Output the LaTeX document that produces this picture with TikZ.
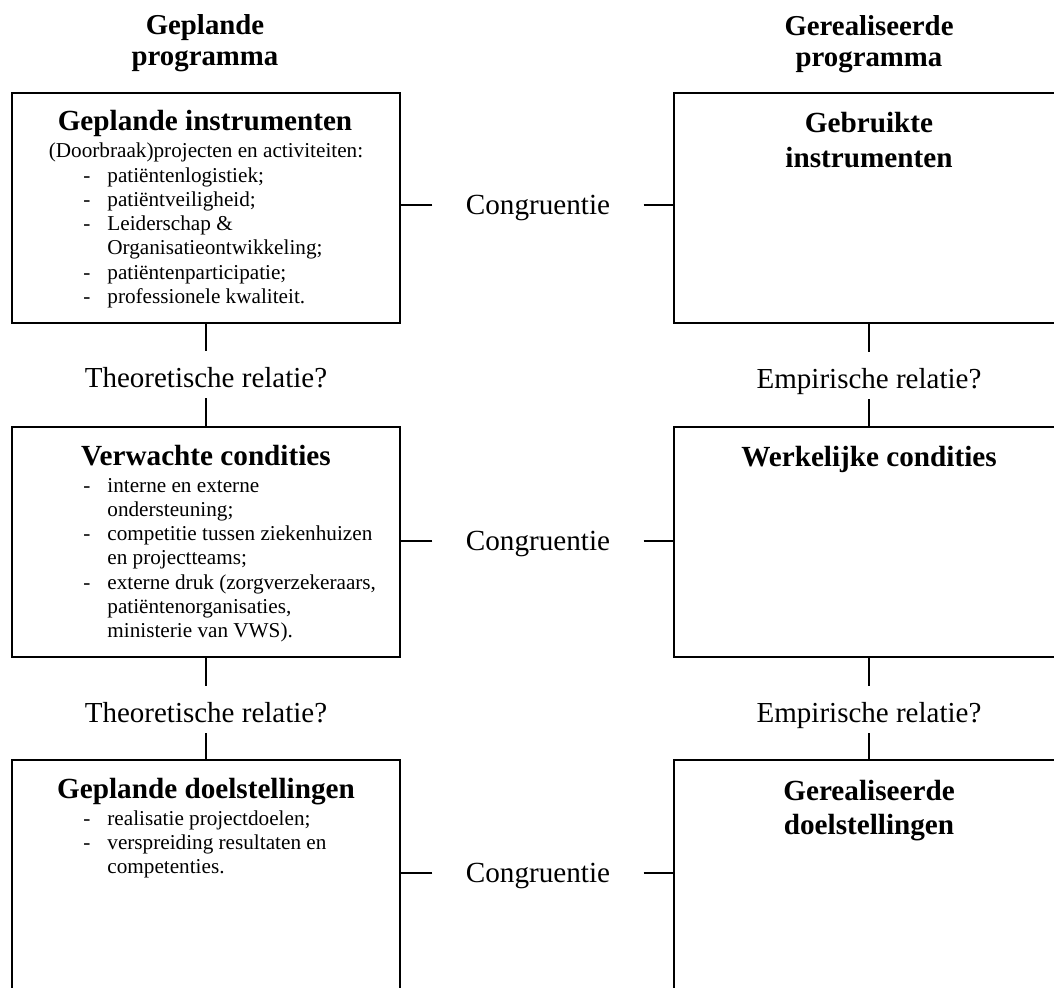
\documentclass[tikz,border=0pt]{standalone}
\usepackage{fontspec}
\setmainfont{Liberation Serif}
% list line with a dash, and its continuation line
\newcommand\itm[1]{\hbox{\makebox[12pt][l]{-}#1}}
\newcommand\cnt[1]{\hbox{\hspace*{12pt}#1}}
\begin{document}
\begin{tikzpicture}[x=0.5pt,y=-0.5pt,
  box/.style={draw, line width=1pt, rectangle, inner sep=0pt, outer sep=0pt,
    minimum width=194pt, minimum height=115pt},
  rbox/.style={box, minimum width=195pt},
  title/.style={font=\bfseries\fontsize{14.4}{17}\selectfont, inner sep=0pt, anchor=base},
  head/.style={font=\bfseries\fontsize{14.6}{17}\selectfont, inner sep=0pt, anchor=base},
  body/.style={font=\fontsize{10.6}{12.15}\selectfont, inner sep=0pt, anchor=base west},
  rel/.style={font=\fontsize{14.5}{17}\selectfont, inner sep=0pt,
    text height=18pt, text depth=5.5pt, anchor=base},
  cong/.style={font=\fontsize{14.6}{17}\selectfont, inner xsep=16.5pt, inner ysep=0pt,
    text height=18pt, text depth=9pt, anchor=base},
  link/.style={line width=0.75pt}]
\useasboundingbox (0,0) rectangle (1054,987);
\clip (0,0) rectangle (1054,987);

% column titles
\node[title] (tla) at (205,34) {Geplande};
\node[title] (tlb) at (205,65) {programma};
\node[title] (tra) at (869,35) {Gerealiseerde};
\node[title] (trb) at (869,66) {programma};

% boxes
\node[box]  (gi) at (206,208) {};
\node[box]  (vc) at (206,542) {};
\node[box]  (gd) at (206,875) {};
\node[rbox] (gu) at (869,208) {};
\node[rbox] (wc) at (869,542) {};
\node[rbox] (gr) at (869,875) {};

% planned instruments
\node[head] (gih) at (205,130) {Geplande instrumenten};
\node[body, anchor=base] (gii) at (206,157) {(Doorbraak)projecten en activiteiten:};
\node[body] (gil) at (83,182) {\vtop{%
  \itm{patiëntenlogistiek;}%
  \itm{patiëntveiligheid;}%
  \itm{Leiderschap \&}%
  \cnt{Organisatieontwikkeling;}%
  \itm{patiëntenparticipatie;}%
  \itm{professionele kwaliteit.}}};

% expected conditions
\node[head] (vch) at (206,465) {Verwachte condities};
\node[body] (vcl) at (83,492) {\vtop{%
  \itm{interne en externe}%
  \cnt{ondersteuning;}%
  \itm{competitie tussen ziekenhuizen}%
  \cnt{en projectteams;}%
  \itm{externe druk (zorgverzekeraars,}%
  \cnt{patiëntenorganisaties,}%
  \cnt{ministerie van VWS).}}};

% planned goals
\node[head] (gdh) at (206,798) {Geplande doelstellingen};
\node[body] (gdl) at (83,825) {\vtop{%
  \itm{realisatie projectdoelen;}%
  \itm{verspreiding resultaten en}%
  \cnt{competenties.}}};

% realised side
\node[head] (guha) at (869,132) {Gebruikte};
\node[head] (guhb) at (869,167) {instrumenten};
\node[head] (wch) at (869,466) {Werkelijke condities};
\node[head] (grha) at (869,800) {Gerealiseerde};
\node[head] (grhb) at (869,834) {doelstellingen};

% relation labels
\node[rel] (tr1) at (206,387) {Theoretische relatie?};
\node[rel] (tr2) at (206,722) {Theoretische relatie?};
\node[rel] (er1) at (869,388) {Empirische relatie?};
\node[rel] (er2) at (869,722) {Empirische relatie?};
\node[cong] (c1) at (538,214) {Congruentie};
\node[cong] (c2) at (538,550) {Congruentie};
\node[cong] (c3) at (538,882) {Congruentie};

% vertical connectors
\draw[link] (gi.south) -- (tr1.north);
\draw[link] (tr1.south) -- (vc.north);
\draw[link] (vc.south) -- (tr2.north);
\draw[link] (tr2.south) -- (gd.north);
\draw[link] (gu.south) -- (er1.north);
\draw[link] (er1.south) -- (wc.north);
\draw[link] (wc.south) -- (er2.north);
\draw[link] (er2.south) -- (gr.north);

% horizontal connectors
\draw[link] (c1.west) -- (c1.west -| gi.east);
\draw[link] (c1.east) -- (c1.east -| gu.west);
\draw[link] (c2.west) -- (c2.west -| vc.east);
\draw[link] (c2.east) -- (c2.east -| wc.west);
\draw[link] (c3.west) -- (c3.west -| gd.east);
\draw[link] (c3.east) -- (c3.east -| gr.west);
\end{tikzpicture}
\end{document}
